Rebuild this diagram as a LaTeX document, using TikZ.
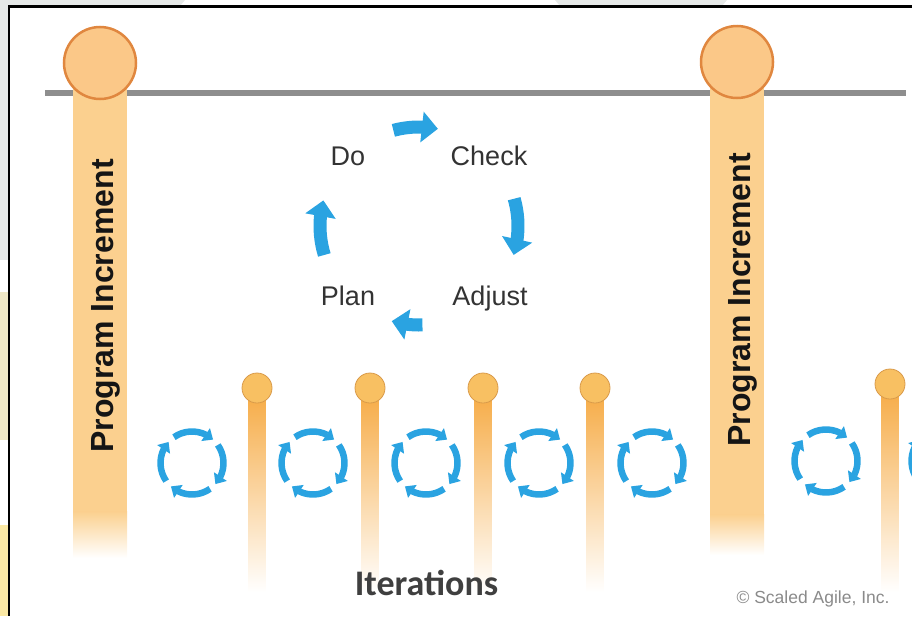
\documentclass[tikz,border=0pt]{standalone}
\usepackage{fontspec}
\setmainfont{Liberation Sans}
\newfontfamily\calibrifont{Carlito}
\usetikzlibrary{arrows.meta,bending}

\definecolor{barfill}{HTML}{FBD08F}
\definecolor{pifill}{HTML}{FBC888}
\definecolor{pistroke}{HTML}{E0873F}
\definecolor{stemtop}{HTML}{F6AB45}
\definecolor{stemmid}{HTML}{FBD8A4}
\definecolor{dotfill}{HTML}{F8C062}
\definecolor{dotstroke}{HTML}{D99A4A}
\definecolor{cycblue}{HTML}{2AA3E1}
\definecolor{axisgray}{HTML}{8E8E8E}
\definecolor{pitext}{HTML}{151515}
\definecolor{labgray}{HTML}{333333}
\definecolor{itgray}{HTML}{3F3F3F}
\definecolor{copygray}{HTML}{8A8A8A}
\definecolor{edgegray}{HTML}{E6E9E8}
\definecolor{edgepale}{HTML}{EFE8C6}
\definecolor{edgeyellow}{HTML}{FAE8A4}

\begin{document}
\begin{tikzpicture}[x=1pt,y=-1pt,
  pibar/.style={fill=barfill},
  picircle/.style={circle, fill=pifill, draw=pistroke, line width=2.5pt, minimum size=72pt, inner sep=0pt},
  itdot/.style={circle, fill=dotfill, draw=dotstroke, line width=0.8pt, minimum size=30pt, inner sep=0pt},
  bigarrow/.style={draw=cycblue, line width=13pt, -{Triangle[width=30pt,length=16pt]}},
  smallarrow/.style={draw=cycblue, line width=6.5pt, -{Triangle[width=15pt,length=9pt]}},
  pilabel/.style={rotate=90, anchor=base, inner sep=0pt, font=\bfseries\fontsize{32}{34}\selectfont, text=pitext},
  pdcalabel/.style={anchor=base, inner sep=0pt, font=\fontsize{27}{30}\selectfont, text=labgray},
  axisline/.style={draw=axisgray, line width=6pt},
  framestyle/.style={draw=black, line width=2.5pt}
]
\useasboundingbox (0,0) rectangle (912,616);

% surroundings outside the frame
\fill[edgegray] (0,0) -- (185,0) -- (180,6) -- (0,6) -- cycle;
\fill[edgegray] (555,0) -- (727,0) -- (722,6) -- (560,6) -- cycle;
\fill[edgegray] (0,0) rectangle (9,260);
\fill[edgepale] (0,292) rectangle (9,440);
\fill[edgeyellow] (0,525) rectangle (9,616);

% main frame
\coordinate (fTR) at (912,6.5);
\coordinate (fTL) at (9,6.5);
\coordinate (fBL) at (9,616);
\draw[framestyle] (fTR) -- (fTL) -- (fBL);

\begin{scope}
\clip (10.5,8) rectangle (912,616);

% timeline axis
\coordinate (axL) at (45,93);
\coordinate (axR) at (906,93);
\draw[axisline] (axL) -- (axR);

% program increment bars
\fill[pibar] (73,63) rectangle (127,512);
\shade[top color=barfill, bottom color=white] (73,511.5) rectangle (127,558);
\fill[pibar] (710,62) rectangle (764,515);
\shade[top color=barfill, bottom color=white] (710,514.5) rectangle (764,555);

\node[picircle] (pi1) at (100,63) {};
\node[picircle] (pi2) at (737,62) {};

\node[pilabel] (pitext1) at (113,306) {Program Increment};
\node[pilabel] (pitext2) at (750,300) {Program Increment};

% iteration stems
\foreach \sx/\sy/\nm in {257/388/d1, 370/388/d2, 483/388/d3, 595/388/d4, 890/384/d5} {
  \shade[top color=stemtop, middle color=stemmid, bottom color=white]
    (\sx-8.5,\sy+4) rectangle (\sx+8.5,592);
  \node[itdot] (\nm) at (\sx,\sy) {};
}

% iteration cycles
\foreach \cx/\cy/\nm in {192/463/c1, 313/463/c2, 426/463/c3, 539/463/c4, 652/463/c5, 826/461/c6, 943/461/c7} {
  \coordinate (\nm) at (\cx,\cy);
  \foreach \a in {0,90,180,270} {
    \draw[smallarrow] (\nm) ++(235+\a:31.5) arc[start angle=235+\a, end angle=312+\a, radius=31.5];
  }
}

% PDCA cycle
\coordinate (pdca) at (419,226);
\draw[bigarrow] (pdca) ++(255:99) arc[start angle=255, end angle=281, radius=99];
\draw[bigarrow] (pdca) ++(344:99) arc[start angle=344, end angle=377, radius=99];
\draw[bigarrow] (pdca) ++(88:99) arc[start angle=88, end angle=106, radius=99];
\draw[bigarrow] (pdca) ++(163:99) arc[start angle=163, end angle=195, radius=99];

\node[pdcalabel] (do) at (348,165) {Do};
\node[pdcalabel] (check) at (489,165) {Check};
\node[pdcalabel] (plan) at (348,305) {Plan};
\node[pdcalabel] (adjust) at (490,305) {Adjust};

% captions
\node[anchor=base, inner sep=0pt, font=\calibrifont\bfseries\fontsize{36}{38}\selectfont, text=itgray] (iter) at (426.5,595) {Iterations};
\node[anchor=base, inner sep=0pt, font=\fontsize{17.5}{20}\selectfont, text=copygray] (copy) at (813,603) {© Scaled Agile, Inc.};
\end{scope}
\end{tikzpicture}
\end{document}
